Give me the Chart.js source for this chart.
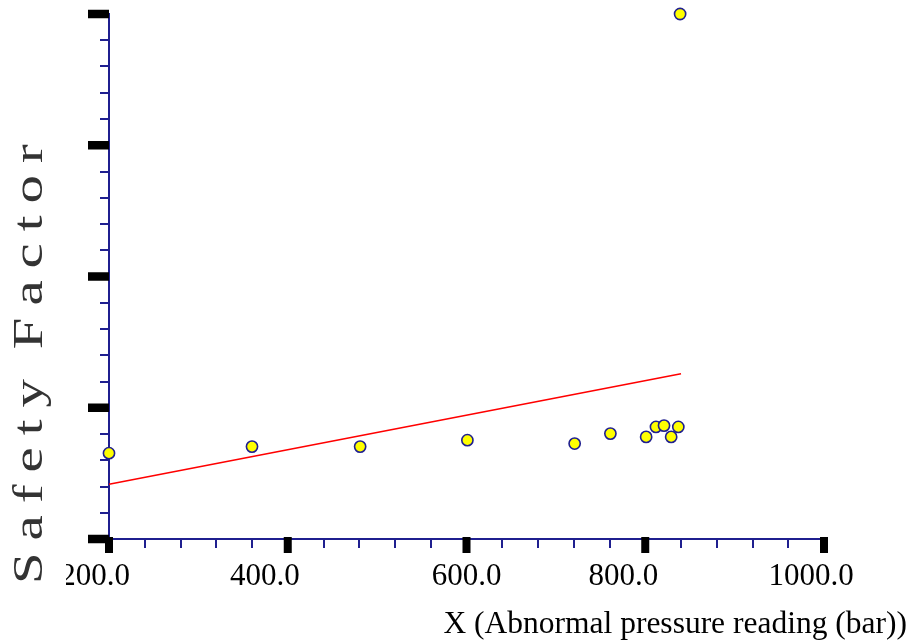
<!DOCTYPE html>
<html>
<head>
<meta charset="utf-8">
<script src="https://cdn.jsdelivr.net/npm/chart.js@4.4.1/dist/chart.umd.min.js"></script>
<style>
  html, body { margin: 0; padding: 0; background: #fff; }
  #wrap { width: 913px; height: 641px; }
</style>
</head>
<body>
<div id="wrap"><canvas id="grafico" width="913" height="641"></canvas></div>
<script>
// valores
const pressao = [200, 360, 481, 601, 721, 761, 801, 812, 821, 829, 837, 839];
const fatorSeguranca = [0.654, 0.704, 0.704, 0.753, 0.727, 0.803, 0.778, 0.854, 0.864, 0.778, 0.854, 4.0];

// reta de ajuste (extremos)
const ajusteX = [200, 840];
const ajusteY = [0.417, 1.259];

// ticks maiores
const ticksMaioresX = [200, 400, 600, 800, 1000];
const ticksMaioresY = [0, 1, 2, 3, 4];

const tituloX = "X (Abnormal pressure reading (bar))";
const tituloY = "Safety Factor";

// pequenos deslocamentos dos rótulos como no original
const deslocRotulo = [-14, -23, 0, -22, -13];

const AZUL = "#1f1f8f";
const SERIF = "'Liberation Serif', 'DejaVu Serif', serif";

const eixosPlugin = {
  id: "eixosExtras",
  afterDraw(chart) {
    const ctx = chart.ctx;
    const sx = chart.scales.x;
    const sy = chart.scales.y;
    const area = chart.chartArea;
    ctx.save();

    // ticks maiores (blocos pretos)
    ctx.fillStyle = "#000";
    ticksMaioresY.forEach(v => {
      const y = sy.getPixelForValue(v);
      ctx.fillRect(area.left - 21, y - 4.25, 21, 8.5);
    });
    ticksMaioresX.forEach(v => {
      const x = sx.getPixelForValue(v);
      ctx.fillRect(x - 4, area.bottom - 2, 8, 16);
    });

    // rótulos do eixo X
    ctx.save();
    ctx.beginPath();
    ctx.rect(66, 0, chart.width, chart.height);
    ctx.clip();
    ctx.font = "31px " + SERIF;
    ctx.fillStyle = "#000";
    ctx.textAlign = "center";
    ctx.textBaseline = "alphabetic";
    ticksMaioresX.forEach((v, i) => {
      const x = sx.getPixelForValue(v) + deslocRotulo[i];
      ctx.fillText(v.toFixed(1), x, 585);
    });
    ctx.restore();

    // título do eixo X
    ctx.font = "31.5px " + SERIF;
    ctx.fillStyle = "#000";
    ctx.textAlign = "right";
    ctx.fillText(tituloX, 907, 633);

    // título do eixo Y (rotacionado, letras largas e espaçadas)
    ctx.save();
    ctx.translate(42, 584);
    ctx.rotate(-Math.PI / 2);
    ctx.font = "42px " + SERIF;
    ctx.fillStyle = "#333";
    ctx.textAlign = "left";
    const esticar = 1.35, espaco = 12, extraPalavra = 18;
    let pos = 0;
    for (const ch of tituloY) {
      if (ch === " ") { pos += extraPalavra; continue; }
      ctx.save();
      ctx.translate(pos, 0);
      ctx.scale(esticar, 1);
      ctx.fillText(ch, 0, 0);
      ctx.restore();
      pos += ctx.measureText(ch).width * esticar + espaco;
    }
    ctx.restore();

    ctx.restore();
  }
};

new Chart(document.getElementById("grafico"), {
  type: "scatter",
  data: {
    datasets: [
      {
        label: "pontos",
        data: pressao.map((x, i) => ({ x, y: fatorSeguranca[i] })),
        backgroundColor: "#ffff00",
        borderColor: AZUL,
        borderWidth: 1.6,
        pointRadius: 5.6,
        clip: false,
        order: 1
      },
      {
        label: "ajuste",
        data: ajusteX.map((x, i) => ({ x, y: ajusteY[i] })),
        showLine: true,
        borderColor: "#ff0000",
        borderWidth: 1.6,
        pointRadius: 0,
        fill: false,
        clip: false,
        order: 2
      }
    ]
  },
  options: {
    responsive: false,
    animation: false,
    devicePixelRatio: 1,
    layout: { padding: { left: 0, right: 89, top: 14, bottom: 0 } },
    plugins: { legend: { display: false }, tooltip: { enabled: false } },
    scales: {
      x: {
        type: "linear",
        min: 200,
        max: 1000,
        ticks: { stepSize: 40, display: false, autoSkip: false },
        grid: { drawOnChartArea: false, color: AZUL, tickColor: AZUL, lineWidth: 2, tickLength: 9 },
        border: { color: AZUL, width: 2 },
        afterFit(scale) { scale.height = 102; }
      },
      y: {
        type: "linear",
        min: 0,
        max: 4,
        ticks: { stepSize: 0.2, display: false, autoSkip: false },
        grid: { drawOnChartArea: false, color: AZUL, tickColor: AZUL, lineWidth: 2, tickLength: 9 },
        border: { color: AZUL, width: 2 },
        afterFit(scale) { scale.width = 109; }
      }
    }
  },
  plugins: [eixosPlugin]
});
</script>
</body>
</html>
